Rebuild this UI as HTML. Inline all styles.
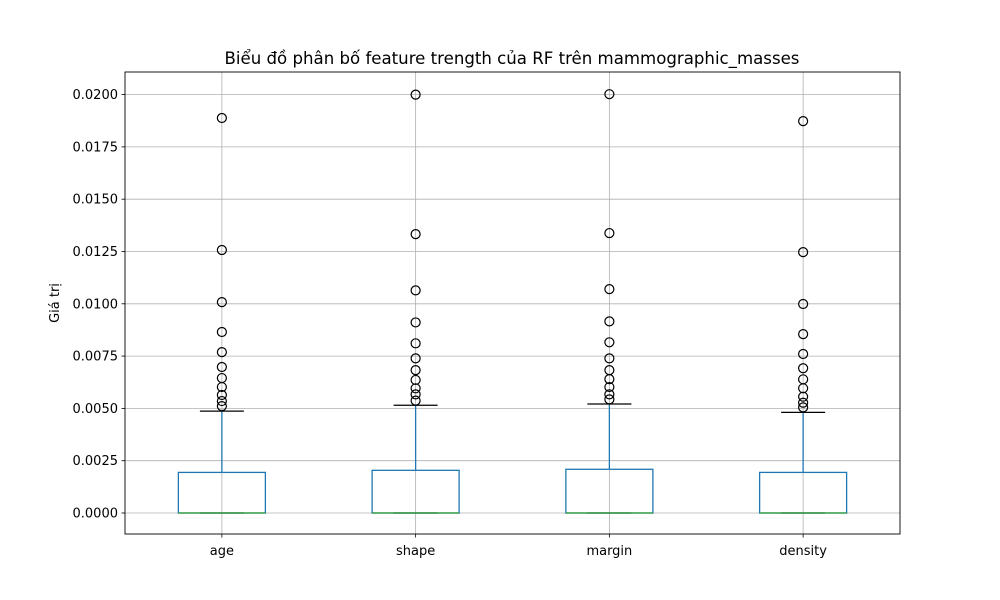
<!DOCTYPE html>
<html><head><meta charset="utf-8"><style>
body{margin:0;background:#fff;}
svg{display:block;font-family:"DejaVu Sans","Liberation Sans",sans-serif;}
</style></head><body>
<svg id="chart" width="1000" height="600">
<text x="512" y="64" font-size="16.6" text-anchor="middle">Biểu đồ phân bố feature trength của RF trên mammographic_masses</text>
<text transform="translate(59,303) rotate(-90)" font-size="13" text-anchor="middle">Giá trị</text>
<g id="grid"></g><g id="marks"></g><g id="axes"></g>
</svg>
<script>
const categories=["age","shape","margin","density"];
const q1=[0,0,0,0];
const medians=[0,0,0,0];
const q3=[0.00194,0.00204,0.00209,0.00194];
const whiskLow=[0,0,0,0];
const whiskHigh=[0.00487,0.00515,0.00521,0.00481];
const outliers=[
[0.01888,0.01257,0.01008,0.00865,0.00769,0.00698,0.00645,0.00602,0.00564,0.00535,0.00511],
[0.0200,0.01333,0.01064,0.00911,0.00811,0.00739,0.00683,0.00636,0.00596,0.00567,0.00537],
[0.02002,0.01338,0.01070,0.00916,0.00816,0.00739,0.00683,0.00640,0.00602,0.00567,0.00543],
[0.01873,0.01247,0.00999,0.00855,0.00760,0.00692,0.00639,0.00596,0.00556,0.00527,0.00505]];
const yTicks=[0,0.0025,0.005,0.0075,0.01,0.0125,0.015,0.0175,0.02];
const yTickLabels=["0.0000","0.0025","0.0050","0.0075","0.0100","0.0125","0.0150","0.0175","0.0200"];
const L=125,R=900,T=72,B=534,yMin=-0.001004,yMax=0.02108;
const y=v=>B-(v-yMin)/(yMax-yMin)*(B-T);
const x=i=>L+(R-L)*(i+0.5)/categories.length;
const NS="http://www.w3.org/2000/svg";
function mk(tag,attrs,parent,txt){const e=document.createElementNS(NS,tag);for(const k in attrs)e.setAttribute(k,attrs[k]);if(txt!=null)e.textContent=txt;parent.appendChild(e);return e;}
const grid=document.getElementById('grid'),marks=document.getElementById('marks'),axes=document.getElementById('axes');
yTicks.forEach((t,i)=>{
 const g=mk('line',{x1:L,x2:R,y1:y(t),y2:y(t),stroke:'#b0b0b0','stroke-width':0.8},grid);
 
 
 mk('line',{x1:L-3.5,x2:L,y1:y(t),y2:y(t),stroke:'#000','stroke-width':0.8},axes);
 const tl=mk('text',{x:L-7,y:y(t)+4.5,'font-size':13,'text-anchor':'end'},axes,yTickLabels[i]);
 
 
});
categories.forEach((c,i)=>{
 const cx=x(i);
 const gl=mk('line',{x1:cx,x2:cx,y1:T,y2:B,stroke:'#b0b0b0','stroke-width':0.8},grid);
 
 
 mk('line',{x1:cx,x2:cx,y1:B,y2:B+3.5,stroke:'#000','stroke-width':0.8},axes);
 const xl=mk('text',{x:cx,y:B+21,'font-size':13,'text-anchor':'middle'},axes,c);
 
 
 const g=mk('g',{},marks);
 
 
 const bw=87,cw=44;
 mk('line',{x1:cx,x2:cx,y1:y(q3[i]),y2:y(whiskHigh[i]),stroke:'#1f77b4','stroke-width':1.3},g);
 mk('line',{x1:cx,x2:cx,y1:y(q1[i]),y2:y(whiskLow[i]),stroke:'#1f77b4','stroke-width':1.3},g);
 mk('line',{x1:cx-cw/2,x2:cx+cw/2,y1:y(whiskHigh[i]),y2:y(whiskHigh[i]),stroke:'#000','stroke-width':1.3},g);
 mk('line',{x1:cx-cw/2,x2:cx+cw/2,y1:y(whiskLow[i]),y2:y(whiskLow[i]),stroke:'#000','stroke-width':1.3},g);
 mk('rect',{x:cx-bw/2,y:y(q3[i]),width:bw,height:y(q1[i])-y(q3[i]),fill:'none',stroke:'#1f77b4','stroke-width':1.3},g);
 mk('line',{x1:cx-bw/2,x2:cx+bw/2,y1:y(medians[i]),y2:y(medians[i]),stroke:'#2ca02c','stroke-width':1.3},g);
 outliers[i].forEach(v=>{
  const o=mk('circle',{cx:cx,cy:y(v),r:4.5,fill:'none',stroke:'#000','stroke-width':1.2},g);
  
  
 });
});
const fr=mk('rect',{x:L,y:T,width:R-L,height:B-T,fill:'none',stroke:'#000','stroke-width':0.9},axes);


</script>
</body></html>
